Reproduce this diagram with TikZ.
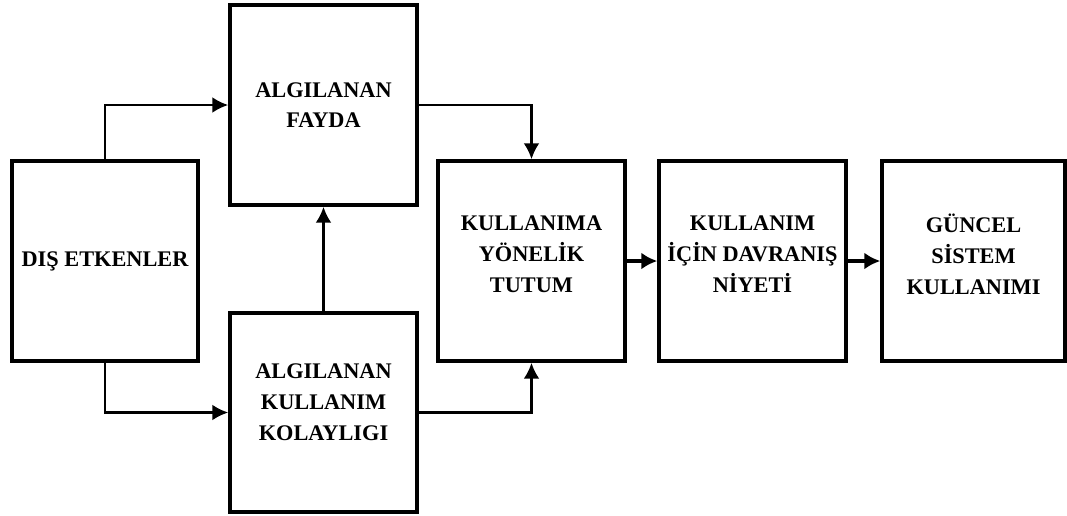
\documentclass[tikz,border=0pt]{standalone}
\usepackage{fontspec}
\setmainfont{Liberation Serif}
\usetikzlibrary{math}
\usetikzlibrary{arrows.meta}

\begin{document}
\begin{tikzpicture}[x=0.02cm, y=-0.02cm,
    box/.style={draw=black, line width=2pt, minimum width=3.74cm, minimum height=4cm,
        inner sep=0pt, align=center, font=\bfseries\fontsize{12.7}{17.5}\selectfont},
    link/.style={black, line width=1.6pt, -{Latex[length=3.2mm,width=3.2mm]}},
    flow/.style={black, line width=2.8pt, -{Latex[length=3.2mm,width=3.4mm]}}]

% Position settings
\tikzmath{
    \XLeft = 105;
    \XMid = 323.5;
    \XTutum = 531.5;
    \XNiyet = 752.5;
    \XGuncel = 973.5;
    \YTop = 105;
    \YRow = 261;
    \YBottom = 412.5;
}

\useasboundingbox (0,0) rectangle (1067,515);

% Draws boxes
\node [box, minimum width=3.72cm] (dis) at (\XLeft,\YRow) {DIŞ ETKENLER};
\node [box] (fayda) at (\XMid,\YTop) {ALGILANAN\\FAYDA};
\node [box, minimum height=3.98cm] (kolay) at (\XMid,\YBottom) {ALGILANAN\\KULLANIM\\KOLAYLIGI\rule[-12pt]{0pt}{0pt}};
\node [box] (tutum) at (\XTutum,\YRow) {KULLANIMA\\YÖNELİK\\TUTUM\rule[-8pt]{0pt}{0pt}};
\node [box] (niyet) at (\XNiyet,\YRow) {KULLANIM\\İÇİN DAVRANIŞ\\NİYETİ\rule[-8pt]{0pt}{0pt}};
\node [box, minimum width=3.66cm] (guncel) at (\XGuncel,\YRow) {GÜNCEL\\SİSTEM\\KULLANIMI\rule[-8pt]{0pt}{0pt}};

% Draws connectors
\draw [link] (dis.north) |- (fayda.west);
\draw [link] (dis.south) |- (kolay.west);
\draw [link] (kolay.north) -- (fayda.south);
\draw [link] (fayda.east) -| (tutum.north);
\draw [link] (kolay.east) -| (tutum.south);
\draw [flow] (tutum.east) -- (niyet.west);
\draw [flow] (niyet.east) -- (guncel.west);

\end{tikzpicture}
\end{document}
